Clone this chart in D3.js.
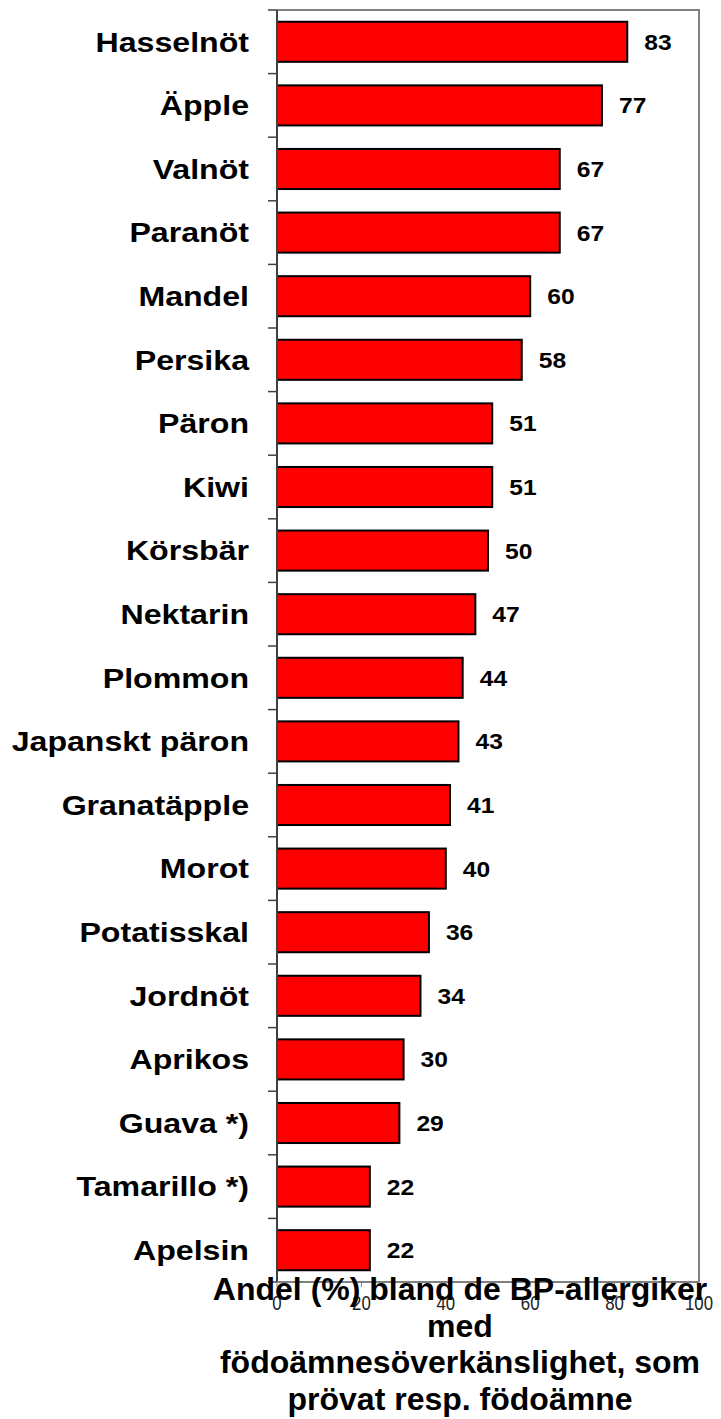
<!DOCTYPE html>
<html>
<head>
<meta charset="utf-8">
<script src="https://cdn.jsdelivr.net/npm/d3@7"></script>
<style>
  html, body { margin: 0; padding: 0; background: #fff; }
  svg { display: block; }
  text { font-family: "Liberation Sans", Arial, sans-serif; }
</style>
</head>
<body>
<script>
const categories = ["Hasselnöt","Äpple","Valnöt","Paranöt","Mandel","Persika","Päron","Kiwi","Körsbär","Nektarin","Plommon","Japanskt päron","Granatäpple","Morot","Potatisskal","Jordnöt","Aprikos","Guava *)","Tamarillo *)","Apelsin"];
const values = [83,77,67,67,60,58,51,51,50,47,44,43,41,40,36,34,30,29,22,22];
const xTicks = [0,20,40,60,80,100];
const axisTitleLines = ["Andel (%) bland de BP-allergiker","med","födoämnesöverkänslighet, som","prövat resp. födoämne"];

const W = 721, H = 1419;
const pL = 277, pR = 699, pT = 10, pB = 1282;

const svg = d3.select("body").append("svg").attr("width", W).attr("height", H);

const x = d3.scaleLinear().domain([0, 100]).range([pL, pR]);
const y = d3.scaleBand().domain(categories).range([pT, pB]).paddingInner(0.37).paddingOuter(0.185);

// plot frame (top & right gray)
svg.append("path")
  .attr("d", `M${pL},${pT}H${pR}V${pB}`)
  .attr("fill", "none").attr("stroke", "#808080").attr("stroke-width", 2);

// bars
svg.append("g").selectAll("rect").data(values).join("rect")
  .attr("x", x(0))
  .attr("y", (d, i) => y(categories[i]))
  .attr("width", d => x(d) - x(0))
  .attr("height", y.bandwidth())
  .attr("fill", "#ff0000")
  .attr("stroke", "#000").attr("stroke-width", 2);

// value labels
svg.append("g").selectAll("text").data(values).join("text")
  .attr("transform", (d, i) => `translate(${x(d) + 17},${y(categories[i]) + y.bandwidth() / 2}) scale(1.12,1)`)
  .attr("dy", "0.36em")
  .attr("font-size", 22).attr("font-weight", "bold")
  .text(d => d);

// left axis line + ticks at category boundaries
const boundaries = d3.range(categories.length + 1).map(i => pT + i * (pB - pT) / categories.length);
svg.append("line").attr("x1", pL).attr("x2", pL).attr("y1", pT).attr("y2", pB)
  .attr("stroke", "#404040").attr("stroke-width", 2);
svg.append("g").selectAll("line").data(boundaries).join("line")
  .attr("x1", pL - 9).attr("x2", pL).attr("y1", d => d).attr("y2", d => d)
  .attr("stroke", "#404040").attr("stroke-width", 1.5);

// category labels
svg.append("g").selectAll("text").data(categories).join("text")
  .attr("text-anchor", "end")
  .attr("transform", d => `translate(249,${y(d) + y.bandwidth() / 2}) scale(1.19,1)`)
  .attr("dy", "0.36em")
  .attr("font-size", 27).attr("font-weight", "bold")
  .text(d => d);

// bottom axis
svg.append("line").attr("x1", pL).attr("x2", pR).attr("y1", pB).attr("y2", pB)
  .attr("stroke", "#808080").attr("stroke-width", 2);
svg.append("g").selectAll("line").data(xTicks).join("line")
  .attr("x1", d => x(d)).attr("x2", d => x(d)).attr("y1", pB).attr("y2", pB + 5)
  .attr("stroke", "#808080").attr("stroke-width", 1);
svg.append("g").selectAll("text").data(xTicks).join("text")
  .attr("text-anchor", "middle")
  .attr("transform", d => `translate(${x(d)},${pB + 21}) scale(0.8,1)`)
  .attr("dy", "0.35em")
  .attr("font-size", 21)
  .attr("fill", "#222")
  .text(d => d);

// axis title
svg.append("g").selectAll("text").data(axisTitleLines).join("text")
  .attr("x", 460)
  .attr("y", (d, i) => 1300 + i * 36.5)
  .attr("text-anchor", "middle")
  .attr("font-size", 32).attr("font-weight", "bold")
  .text(d => d);
</script>
</body>
</html>
